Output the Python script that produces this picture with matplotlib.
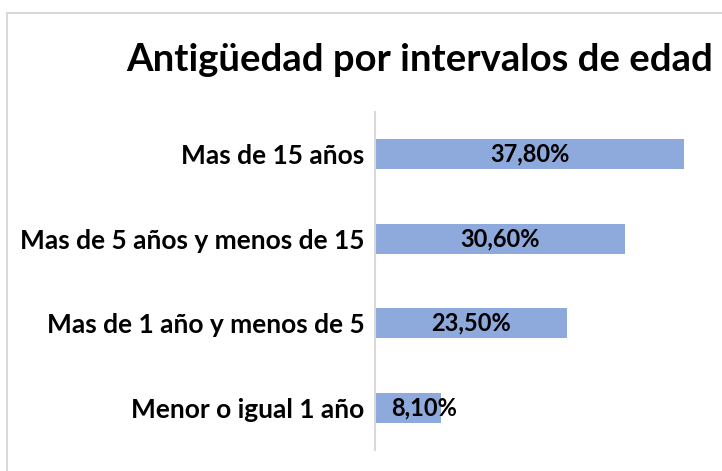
import matplotlib
matplotlib.use("Agg")
import matplotlib.pyplot as plt
from matplotlib.patches import Rectangle

categories = ["Menor o igual 1 año", "Mas de 1 año y menos de 5",
              "Mas de 5 años y menos de 15", "Mas de 15 años"]
values = [8.10, 23.50, 30.60, 37.80]
value_labels = ["8,10%", "23,50%", "30,60%", "37,80%"]
title = "Antigüedad por intervalos de edad"

W, H = 722, 471
fig = plt.figure(figsize=(W / 100, H / 100), dpi=100)
fig.patch.set_facecolor("white")

# outer chart border
fig.patches.append(Rectangle((7 / W, -0.1), 1.2, 1 - 13 / H + 0.1,
                             transform=fig.transFigure, fill=False,
                             edgecolor="#D9D9D9", linewidth=1.5))

ax = fig.add_axes([375 / W, 1 - 450 / H, (702 - 375) / W, (450 - 112) / H])
ypos = list(range(len(categories)))
ax.barh(ypos, values, height=0.36, color="#8EA9DB")
ax.set_xlim(0, 40)
ax.set_ylim(-0.5, 3.5)
ax.set_yticks(ypos)
ax.set_yticklabels(categories, fontsize=19, fontweight="bold", fontfamily="Lato")
ax.tick_params(axis="y", length=0, pad=7.5)
ax.set_xticks([])
for s in ["top", "right", "bottom"]:
    ax.spines[s].set_visible(False)
ax.spines["left"].set_color("#D9D9D9")
ax.spines["left"].set_linewidth(1.5)

for y, v, lab in zip(ypos, values, value_labels):
    if v < 12:
        ax.text(2.0, y, lab, ha="left", va="center", fontsize=17,
                fontweight="bold", fontfamily="Lato")
    else:
        ax.text(v / 2, y, lab, ha="center", va="center", fontsize=17,
                fontweight="bold", fontfamily="Lato")

fig.text(420 / W, 1 - 71 / H, title, ha="center", va="baseline",
         fontsize=27.5, fontweight="bold", fontfamily="Lato")

fig.savefig("out.png", dpi=100)
